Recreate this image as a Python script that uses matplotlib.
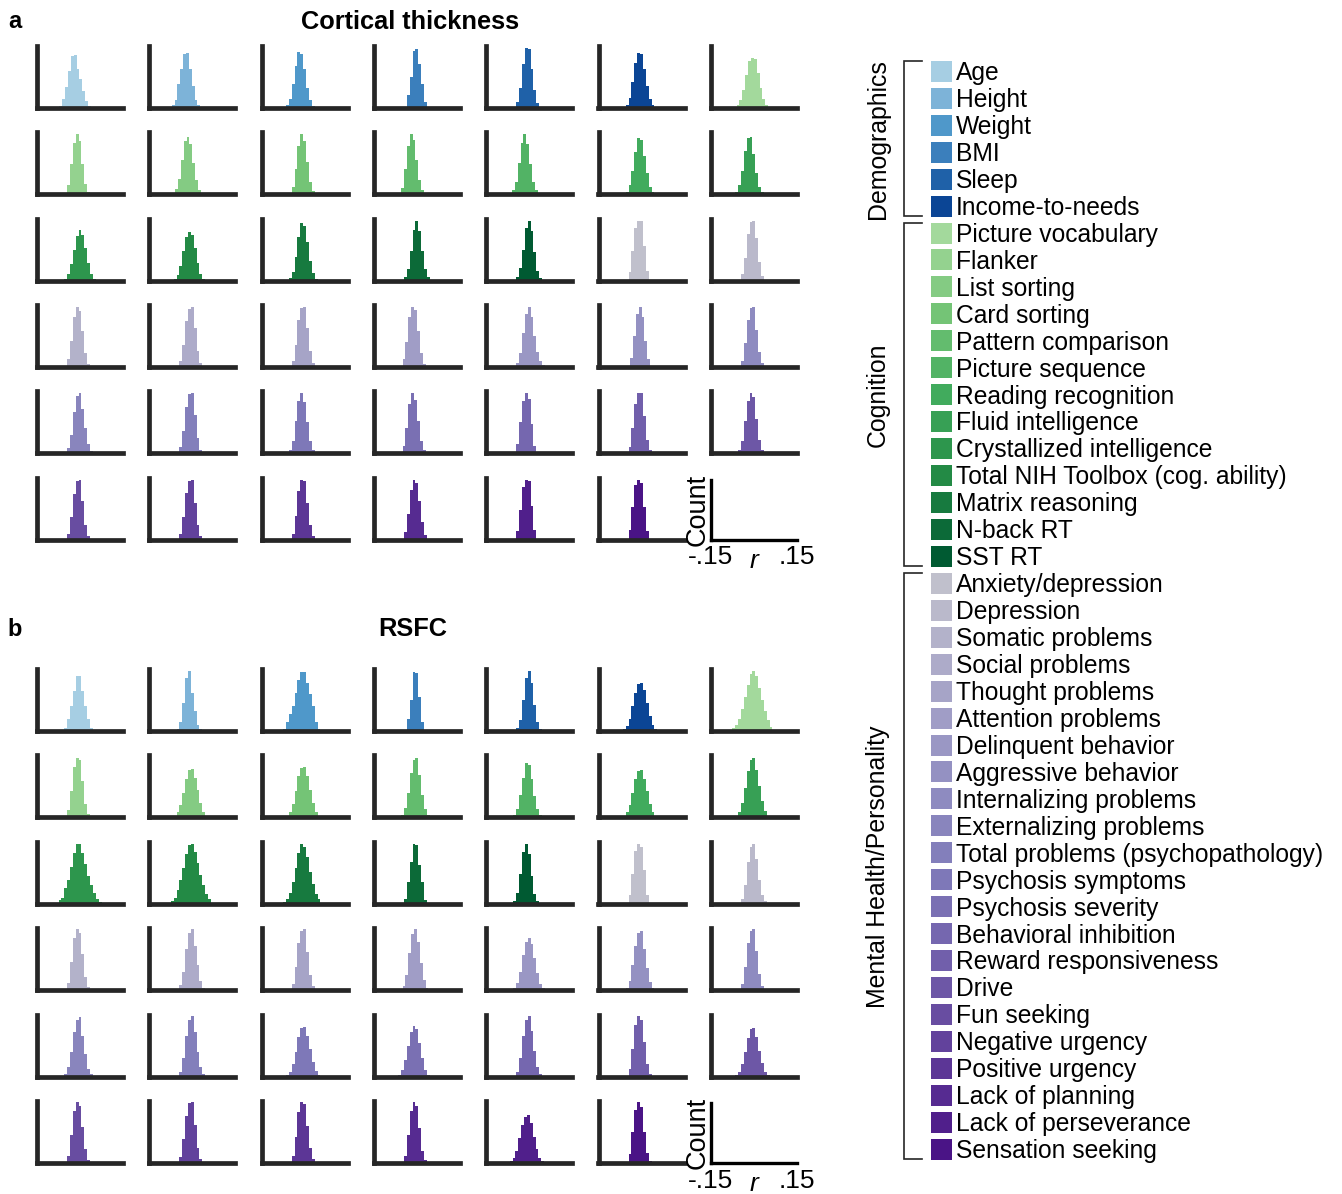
import numpy as np
import matplotlib
matplotlib.use('Agg')
import matplotlib.pyplot as plt
from matplotlib.colors import LinearSegmentedColormap, to_hex
from matplotlib.patches import Rectangle

plt.rcParams['font.family'] = ['Liberation Sans', 'DejaVu Sans']

# ---------------- data ----------------
demographics = ["Age", "Height", "Weight", "BMI", "Sleep", "Income-to-needs"]
cognition = ["Picture vocabulary", "Flanker", "List sorting", "Card sorting",
             "Pattern comparison", "Picture sequence", "Reading recognition",
             "Fluid intelligence", "Crystallized intelligence",
             "Total NIH Toolbox (cog. ability)", "Matrix reasoning", "N-back RT", "SST RT"]
mental = ["Anxiety/depression", "Depression", "Somatic problems", "Social problems",
          "Thought problems", "Attention problems", "Delinquent behavior",
          "Aggressive behavior", "Internalizing problems", "Externalizing problems",
          "Total problems (psychopathology)", "Psychosis symptoms", "Psychosis severity",
          "Behavioral inhibition", "Reward responsiveness", "Drive", "Fun seeking",
          "Negative urgency", "Positive urgency", "Lack of planning",
          "Lack of perseverance", "Sensation seeking"]
features = demographics + cognition + mental

bin_width = 0.01

# Cortical thickness: left edge of first bin (r) and bin counts (relative to a shared y-limit of 100)
ct_start = [-0.072, -0.072, -0.065, -0.035, -0.045, -0.055, -0.060,
            -0.045, -0.060, -0.045, -0.055, -0.060, -0.055, -0.065,
            -0.055, -0.065, -0.055, -0.045, -0.045, -0.045, -0.045,
            -0.045, -0.045, -0.045, -0.050, -0.045, -0.040, -0.045,
            -0.045, -0.045, -0.055, -0.050, -0.045, -0.045, -0.055,
            -0.045, -0.045, -0.045, -0.045, -0.045, -0.045]
ct_counts = [
    [3, 14, 34, 60, 83, 85, 62, 46, 27, 11, 3],
    [4, 12, 38, 62, 86, 88, 62, 35, 12, 4],
    [4, 14, 38, 68, 90, 86, 62, 32, 12, 3],
    [20, 50, 92, 95, 70, 38, 10],
    [10, 32, 70, 96, 94, 62, 28, 8],
    [5, 16, 42, 72, 88, 86, 62, 35, 14, 4],
    [4, 12, 28, 52, 75, 80, 78, 56, 32, 14, 4],
    [14, 49, 82, 97, 85, 49, 16, 3],
    [8, 24, 55, 85, 92, 80, 50, 22, 7],
    [12, 40, 78, 97, 85, 52, 20, 5],
    [10, 40, 78, 97, 88, 55, 22, 6],
    [6, 20, 50, 82, 97, 80, 48, 20, 6],
    [4, 14, 38, 68, 90, 88, 62, 34, 12, 3],
    [4, 14, 38, 70, 90, 92, 64, 34, 12, 3],
    [3, 10, 26, 50, 72, 81, 74, 52, 28, 10, 3],
    [3, 9, 24, 48, 70, 79, 74, 52, 28, 10, 3],
    [4, 14, 38, 70, 93, 88, 62, 32, 12, 3],
    [5, 18, 48, 82, 96, 80, 48, 18, 5],
    [5, 20, 50, 84, 96, 80, 46, 16, 4],
    [14, 48, 85, 96, 96, 55, 15],
    [10, 36, 75, 94, 96, 68, 30, 8],
    [12, 42, 80, 97, 90, 58, 22, 5],
    [10, 36, 74, 94, 97, 62, 25, 6],
    [10, 36, 75, 95, 97, 62, 25, 6],
    [12, 40, 80, 97, 92, 58, 22, 5],
    [6, 22, 55, 86, 96, 80, 50, 24, 9, 3],
    [14, 50, 86, 97, 80, 42, 12],
    [10, 38, 76, 95, 97, 60, 24, 6],
    [8, 30, 66, 92, 97, 72, 40, 15, 4],
    [10, 36, 74, 95, 97, 62, 25, 6],
    [6, 20, 52, 85, 97, 82, 50, 20, 6],
    [12, 40, 80, 97, 86, 52, 20, 5],
    [15, 50, 85, 97, 88, 48, 12],
    [10, 40, 80, 97, 97, 60, 22, 5],
    [6, 20, 52, 84, 97, 90, 55, 22, 6],
    [10, 36, 74, 94, 97, 62, 24, 6],
    [10, 36, 75, 95, 97, 60, 23, 6],
    [10, 38, 78, 97, 95, 60, 24, 6],
    [12, 42, 80, 97, 92, 62, 28, 8],
    [14, 48, 85, 97, 95, 55, 15],
    [15, 52, 88, 97, 92, 52, 14],
]

# RSFC
rsfc_start = [-0.055, -0.055, -0.075, -0.035, -0.045, -0.065, -0.085,
              -0.045, -0.065, -0.065, -0.055, -0.055, -0.065, -0.065,
              -0.085, -0.085, -0.075, -0.045, -0.055, -0.045, -0.045,
              -0.045, -0.045, -0.045, -0.050, -0.055, -0.055, -0.045,
              -0.055, -0.045, -0.065, -0.065, -0.045, -0.045, -0.065,
              -0.045, -0.045, -0.045, -0.045, -0.068, -0.045]
rsfc_counts = [
    [5, 20, 40, 65, 88, 88, 65, 40, 20, 5],
    [3, 15, 45, 85, 96, 62, 32, 10, 3],
    [4, 15, 28, 40, 62, 83, 95, 95, 78, 60, 40, 15, 4],
    [20, 50, 95, 93, 55, 15],
    [5, 18, 50, 85, 96, 78, 42, 14, 4],
    [3, 8, 20, 40, 62, 76, 78, 66, 45, 24, 9, 3],
    [2, 5, 10, 20, 35, 55, 75, 92, 96, 88, 70, 50, 32, 17, 7, 2],
    [12, 42, 82, 96, 92, 58, 22, 5],
    [3, 8, 20, 40, 62, 76, 78, 64, 44, 24, 9, 3],
    [3, 8, 22, 42, 66, 80, 81, 66, 44, 24, 9, 3],
    [4, 15, 40, 72, 92, 96, 68, 36, 13, 4],
    [4, 14, 36, 64, 87, 84, 62, 34, 13, 4],
    [3, 8, 20, 40, 62, 75, 77, 62, 42, 22, 8, 3],
    [3, 9, 24, 48, 75, 92, 96, 76, 50, 26, 10, 3],
    [2, 6, 10, 25, 38, 60, 82, 97, 97, 82, 65, 45, 30, 18, 8, 3],
    [2, 5, 10, 22, 38, 58, 80, 95, 96, 84, 66, 46, 30, 16, 7, 2],
    [3, 8, 18, 35, 58, 82, 96, 92, 75, 52, 32, 16, 7, 2],
    [8, 35, 68, 96, 95, 62, 35, 6],
    [5, 18, 48, 84, 96, 80, 45, 16, 4],
    [14, 48, 85, 96, 92, 55, 14],
    [8, 30, 68, 92, 96, 72, 38, 14, 4],
    [12, 45, 84, 99, 92, 58, 22, 5],
    [8, 30, 66, 92, 98, 72, 40, 15, 4],
    [10, 38, 76, 96, 98, 62, 25, 6],
    [7, 25, 60, 90, 98, 78, 44, 16, 4],
    [3, 12, 30, 56, 78, 84, 74, 52, 28, 10, 3],
    [4, 15, 40, 72, 92, 96, 66, 36, 13, 4],
    [10, 38, 76, 96, 98, 64, 26, 6],
    [4, 15, 40, 72, 92, 96, 66, 36, 13, 4],
    [8, 30, 66, 92, 97, 72, 40, 15, 4],
    [3, 8, 20, 40, 64, 78, 80, 66, 44, 24, 9, 3],
    [3, 10, 26, 50, 72, 82, 76, 54, 30, 11, 3],
    [8, 30, 66, 92, 97, 74, 42, 16, 4],
    [12, 45, 84, 97, 92, 56, 20, 5],
    [3, 8, 20, 40, 62, 76, 78, 64, 42, 22, 8, 3],
    [12, 45, 84, 99, 92, 58, 22, 5],
    [10, 38, 76, 96, 99, 62, 24, 6],
    [12, 42, 82, 99, 95, 60, 24, 6],
    [12, 45, 84, 99, 92, 56, 20, 5],
    [3, 8, 20, 40, 62, 75, 78, 64, 42, 22, 8, 3],
    [14, 50, 86, 99, 90, 50, 16, 4],
]

# ---------------- colours ----------------
blues = ["#a6cee3", "#7db3d8", "#4f98ca", "#3b7fbc", "#1f61a8", "#0b4595"]
gcmap = LinearSegmentedColormap.from_list("g", ["#a3d99c", "#74c476", "#41ab5d", "#238b45", "#005a32"])
pcmap = LinearSegmentedColormap.from_list("p", ["#c0c0cc", "#9e9bc6", "#807cba", "#6a51a3", "#4a1486"])
greens = [to_hex(gcmap(v)) for v in np.linspace(0, 1, len(cognition))]
purples = [to_hex(pcmap(v)) for v in np.linspace(0, 1, len(mental))]
colors = blues + greens + purples

# ---------------- layout ----------------
W, H = 1342, 1194
fig = plt.figure(figsize=(W / 100, H / 100), dpi=100)


def px_axes(left, top, width, height):
    return fig.add_axes([left / W, 1 - (top + height) / H, width / W, height / H])


leg = px_axes(0, 0, W, H)
leg.set_xlim(0, W)
leg.set_ylim(H, 0)
leg.axis('off')
leg.patch.set_visible(False)

col_x0, col_pitch, ax_w, ax_h, row_pitch = 37.0, 112.3, 86.0, 62.0, 86.4
spine_col = '#262626'

panels = [(ct_start, ct_counts, 107.7), (rsfc_start, rsfc_counts, 731.0)]
for starts, counts, row1_bottom in panels:
    for i in range(len(features)):
        r, c = divmod(i, 7)
        ax = px_axes(col_x0 + c * col_pitch, row1_bottom + r * row_pitch - ax_h, ax_w, ax_h)
        edges = starts[i] + bin_width * np.arange(len(counts[i]) + 1)
        ax.stairs(counts[i], edges, fill=True, color=colors[i], linewidth=0)
        ax.set_xlim(-0.15, 0.15)
        ax.set_ylim(0, 100)
        for s in ['top', 'right']:
            ax.spines[s].set_visible(False)
        for s in ['left', 'bottom']:
            ax.spines[s].set_linewidth(3.4)
            ax.spines[s].set_color(spine_col)
        ax.set_xticks([])
        ax.set_yticks([])
        ax.patch.set_visible(False)
    # scale-bar axes
    sc = px_axes(col_x0 + 6 * col_pitch, row1_bottom + 5 * row_pitch - ax_h + 2, ax_w, ax_h - 2)
    sc.set_xlim(-0.15, 0.15)
    sc.set_ylim(0, 100)
    for s in ['top', 'right']:
        sc.spines[s].set_visible(False)
    for s in ['left', 'bottom']:
        sc.spines[s].set_linewidth(2.4)
        sc.spines[s].set_color('black')
    sc.set_xticks([-0.15, 0.15])
    sc.set_xticklabels(['-.15', '.15'], fontsize=19)
    sc.set_yticks([])
    sc.tick_params(axis='x', length=0, pad=4)
    sc.set_ylabel('Count', fontsize=19.5, labelpad=0)
    sc.set_xlabel('r', fontsize=19, fontstyle='italic', labelpad=-14.5)
    sc.patch.set_visible(False)

# panel letters and titles
fig.text(15 / W, 1 - 21 / H, 'a', fontsize=17, fontweight='bold', ha='center', va='center')
fig.text(410 / W, 1 - 22 / H, 'Cortical thickness', fontsize=18.3, fontweight='bold', ha='center', va='center')
fig.text(15 / W, 1 - 629 / H, 'b', fontsize=17, fontweight='bold', ha='center', va='center')
fig.text(413 / W, 1 - 629 / H, 'RSFC', fontsize=18.3, fontweight='bold', ha='center', va='center')

# legend
y0, dy, sq = 71.3, 26.95, 21.0
fs_leg = 17.7
cap_half = 0.716 * fs_leg * 100 / 72 / 2
for i, (name, col) in enumerate(zip(features, colors)):
    y = y0 + i * dy
    leg.add_patch(Rectangle((931, y - sq / 2), sq, sq, facecolor=col, edgecolor='none'))
    leg.text(956, y + cap_half, name, fontsize=fs_leg, ha='left', va='baseline')

groups = [("Demographics", 0, len(demographics)),
          ("Cognition", len(demographics), len(cognition)),
          ("Mental Health/Personality", len(demographics) + len(cognition), len(mental))]
for label, first, n in groups:
    top = y0 + first * dy - 10
    bot = y0 + (first + n - 1) * dy + 10
    leg.plot([922, 903.5, 903.5, 922], [top, top, bot, bot], color='#262626', lw=1.2,
             solid_joinstyle='miter')
    leg.text(878, (top + bot) / 2, label, fontsize=17.9, rotation=90, ha='center', va='center')

fig.savefig('out.png', dpi=100)
